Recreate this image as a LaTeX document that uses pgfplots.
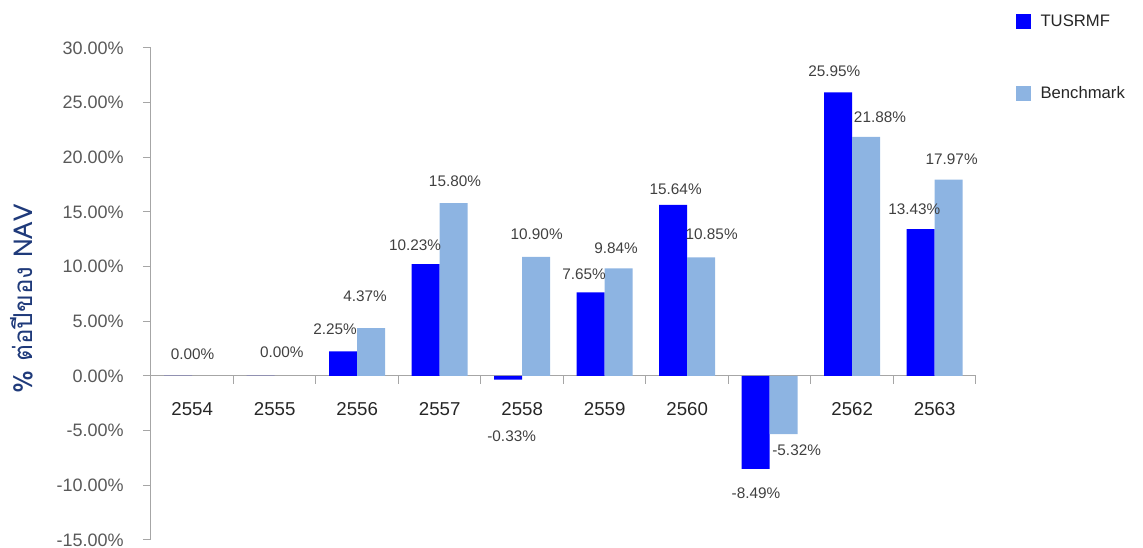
\documentclass[border=0pt]{standalone}
\usepackage{fontspec}
\setmainfont{Liberation Sans}
\newfontfamily\thaifont[Script=Thai]{Loma}
\usepackage{pgfplots}
\usepackage{pgfplotstable}
\pgfplotsset{compat=1.18}
\definecolor{fundblue}{HTML}{0000FF}
\definecolor{benchblue}{HTML}{8DB4E2}
\definecolor{axisgray}{HTML}{A6A6A6}
\definecolor{ticktext}{HTML}{595959}
\definecolor{labeltext}{HTML}{404040}
\definecolor{navy}{HTML}{1F3A7A}

% yearly return (%) ; dx, dy = label offset in px from the bar end
\pgfplotstableread{
x y dx dy
0 0.00 14.4 22
1 0.00 21.0 23.7
2 2.25 -8.25 21.7
3 10.23 -10.7 18.5
4 -0.33 3.4 -57
5 7.65 -6.75 18.4
6 15.64 2.4 15.3
7 -8.49 0.25 -24.5
8 25.95 -3.9 20.6
9 13.43 -6.4 19.5
}\fundtable

\pgfplotstableread{
x y dx dy
2 4.37 -6.25 31.9
3 15.80 1.25 21.6
4 10.90 0.4 22.8
5 9.84 -2.75 20
6 10.85 10.4 23.4
7 -5.32 12.9 -16.5
8 21.88 13.75 19.5
9 17.97 2.9 19.8
}\benchtable

\begin{document}
\begin{tikzpicture}
\useasboundingbox (0,0) rectangle (857.25pt,411pt);
\begin{axis}[
  at={(113.25pt,6pt)}, anchor=south west,
  width=618.75pt, height=369pt, scale only axis,
  ybar=0pt, bar width=21pt,
  xmin=-0.5, xmax=9.5, ymin=-15, ymax=30,
  enlargelimits=false,
  axis y line=left, axis x line=middle,
  axis line style={draw=axisgray, line width=0.75pt, -},
  tick align=outside,
  major tick length=6pt, minor tick length=6pt,
  tick style={draw=axisgray, line width=0.75pt},
  xtick={0,...,9},
  xticklabels={2554,2555,2556,2557,2558,2559,2560,2561,2562,2563},
  major x tick style={draw=none},
  minor xtick={-0.5,0.5,...,9.5},
  xticklabel style={font=\fontsize{14}{16}\selectfont, color=black!85, anchor=north, yshift=-10.5pt},
  ytick={-15,-10,...,30},
  yticklabel={\pgfmathprintnumber[fixed,fixed zerofill,precision=2,assume math mode=true]{\tick}\%},
  yticklabel style={font=\fontsize{13.5}{16}\selectfont, color=ticktext, xshift=-11pt},
  ylabel={\thaifont\% ต่อปีของ NAV},
  ylabel style={at={(axis description cs:-0.156,0.49)}, anchor=center, rotate=0,
                font=\fontsize{19.5}{22}\selectfont, color=navy},
  nodes near coords={\pgfmathprintnumber[fixed,fixed zerofill,precision=2,assume math mode=true]{\pgfplotspointmeta}\%},
  every node near coord/.append style={font=\fontsize{11.5}{13}\selectfont, color=labeltext,
                anchor=center, xshift={\dx*0.75pt}, yshift={\dy*0.75pt}},
  legend style={draw=none, fill=none, at={(1.0436,1.0783)}, anchor=north west,
                font=\fontsize{12.5}{14}\selectfont, color=black!85, row sep=39pt,
                /tikz/every odd column/.append style={column sep=5pt}},
  legend cell align=left,
  legend image code/.code={\fill[#1,draw=none] (0pt,-5.6pt) rectangle (11.25pt,5.6pt);},
  clip=false,
]
\addplot[fill=fundblue, draw=none,
  visualization depends on={\thisrow{dx} \as \dx},
  visualization depends on={\thisrow{dy} \as \dy}] table[x=x,y=y] {\fundtable};
\addplot[fill=benchblue, draw=none,
  visualization depends on={\thisrow{dx} \as \dx},
  visualization depends on={\thisrow{dy} \as \dy}] table[x=x,y=y] {\benchtable};
\legend{TUSRMF, Benchmark}
\end{axis}
\end{tikzpicture}
\end{document}
